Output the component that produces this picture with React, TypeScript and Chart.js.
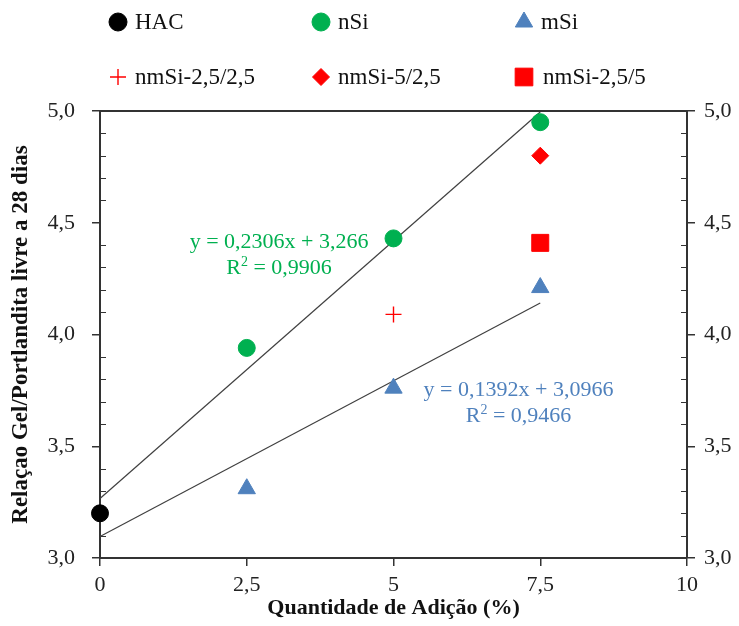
import React, { useEffect, useRef } from 'react';
import { Chart, registerables } from 'chart.js';
import { drawPoint } from 'chart.js/helpers';

Chart.register(...registerables);

const SERIF = '"Liberation Serif", "Times New Roman", serif';

// ---- data ----
const HAC_X = [0];
const HAC_Y = [3.2];
const NSI_X = [2.5, 5, 7.5];
const NSI_Y = [3.94, 4.43, 4.95];
const MSI_X = [2.5, 5, 7.5];
const MSI_Y = [3.31, 3.76, 4.21];
const NM_25_25_X = [5];
const NM_25_25_Y = [4.09];
const NM_5_25_X = [7.5];
const NM_5_25_Y = [4.8];
const NM_25_5_X = [7.5];
const NM_25_5_Y = [4.41];

const TREND_NSI = [0.2306, 3.266]; // slope, intercept
const TREND_MSI = [0.1392, 3.0966];
const TREND_RANGE = [0, 7.5];
const EQ_NSI = ['y = 0,2306x + 3,266', '0,9906'];
const EQ_MSI = ['y = 0,1392x + 3,0966', '0,9466'];

const X_TICKS = [0, 2.5, 5, 7.5, 10];
const X_TICK_LABELS = ['0', '2,5', '5', '7,5', '10'];
const Y_TICKS = [3.0, 3.5, 4.0, 4.5, 5.0];
const Y_TICK_LABELS = ['3,0', '3,5', '4,0', '4,5', '5,0'];

const X_TITLE = 'Quantidade de Adição (%)';
const Y_TITLE = 'Relaçao Gel/Portlandita livre a 28 dias';

const GREEN = '#00B050';
const BLUE = '#4F81BD';
const RED = '#FF0000';
const AXIS = '#333333';

const pts = (xs: number[], ys: number[]) => xs.map((x, i) => ({ x, y: ys[i] }));
const trend = (c: number[]) => TREND_RANGE.map((x) => ({ x, y: c[0] * x + c[1] }));

const legendPlugin = {
  id: 'customLegend',
  afterDraw(chart: any) {
    const ctx = chart.ctx;
    const cols = [118, 321, 524];
    const rows = [22, 77];
    const items = chart.data.datasets.filter((d: any) => d.inLegend);
    ctx.save();
    items.forEach((ds: any, i: number) => {
      const cx = cols[i % 3];
      const cy = rows[Math.floor(i / 3)];
      ctx.fillStyle = ds.backgroundColor;
      ctx.strokeStyle = ds.borderColor;
      ctx.lineWidth = ds.borderWidth ?? 1;
      drawPoint(ctx, { pointStyle: ds.pointStyle, rotation: 0, radius: ds.legendRadius, borderWidth: ds.borderWidth ?? 1 }, cx, cy);
      ctx.fillStyle = '#111';
      ctx.font = `23px ${SERIF}`;
      ctx.textBaseline = 'middle';
      ctx.textAlign = 'left';
      ctx.fillText(ds.label, cx + (ds.pointStyle === 'rect' ? 19 : 17), cy + 1);
    });
    ctx.restore();
  },
};

const framePlugin = {
  id: 'frameAndMinor',
  beforeDatasetsDraw(chart: any) {
    const ctx = chart.ctx;
    const { left, right, top } = chart.chartArea;
    const y = chart.scales.y;
    ctx.save();
    ctx.strokeStyle = AXIS;
    ctx.lineWidth = 2;
    ctx.beginPath();
    ctx.moveTo(left - 1, top);
    ctx.lineTo(right + 1, top);
    ctx.stroke();
    ctx.lineWidth = 1.2;
    for (let k = 31; k < 50; k++) {
      if (k % 5 === 0) continue;
      const py = Math.round(y.getPixelForValue(k / 10)) + 0.5;
      ctx.beginPath();
      ctx.moveTo(left, py);
      ctx.lineTo(left + 6, py);
      ctx.moveTo(right, py);
      ctx.lineTo(right - 6, py);
      ctx.stroke();
    }
    ctx.restore();
  },
};

const eqPlugin = {
  id: 'equations',
  afterDatasetsDraw(chart: any) {
    const ctx = chart.ctx;
    const xs = chart.scales.x;
    const ys = chart.scales.y;
    const drawEq = (eq: string[], color: string, xv: number, y1: number, y2: number) => {
      const cx = xs.getPixelForValue(xv);
      ctx.fillStyle = color;
      ctx.textBaseline = 'middle';
      ctx.textAlign = 'center';
      ctx.font = `22px ${SERIF}`;
      ctx.fillText(eq[0], cx, ys.getPixelForValue(y1));
      const rest = ' = ' + eq[1];
      const wR = ctx.measureText('R').width;
      const wRest = ctx.measureText(rest).width;
      ctx.font = `14px ${SERIF}`;
      const w2 = ctx.measureText('2').width;
      const total = wR + w2 + wRest;
      const x0 = cx - total / 2;
      const py = ys.getPixelForValue(y2);
      ctx.textAlign = 'left';
      ctx.font = `22px ${SERIF}`;
      ctx.fillText('R', x0, py);
      ctx.font = `14px ${SERIF}`;
      ctx.fillText('2', x0 + wR, py - 6);
      ctx.font = `22px ${SERIF}`;
      ctx.fillText(rest, x0 + wR + w2, py);
    };
    ctx.save();
    drawEq(EQ_NSI, GREEN, 3.05, 4.414, 4.298);
    drawEq(EQ_MSI, BLUE, 7.13, 3.752, 3.635);
    ctx.restore();
  },
};

export default function App() {
  const ref = useRef<HTMLCanvasElement>(null);

  useEffect(() => {
    if (!ref.current) return;
    const tickFont = { family: SERIF, size: 22 };
    const titleFont = { family: SERIF, size: 22, weight: 'bold' as const };
    const yScaleBase = (position: string) => ({
      type: 'linear' as const,
      position,
      min: 3,
      max: 5,
      afterBuildTicks: (s: any) => {
        s.ticks = Y_TICKS.map((v) => ({ value: v }));
      },
      ticks: {
        font: tickFont,
        color: '#222',
        padding: position === 'left' ? 17 : 9,
        callback: (_v: any, i: number) => Y_TICK_LABELS[i],
      },
      grid: { drawOnChartArea: false, drawTicks: true, tickLength: 8, color: AXIS, lineWidth: 1.5 },
      border: { display: true, color: AXIS, width: 2 },
    });

    const chart = new Chart(ref.current, {
      type: 'scatter',
      data: {
        datasets: [
          { type: 'line', label: 'trend nSi', data: trend(TREND_NSI), borderColor: '#404040', borderWidth: 1.2, pointRadius: 0, order: 10, clip: false } as any,
          { type: 'line', label: 'trend mSi', data: trend(TREND_MSI), borderColor: '#404040', borderWidth: 1.2, pointRadius: 0, order: 10, clip: false } as any,
          { label: 'HAC', data: pts(HAC_X, HAC_Y), pointStyle: 'circle', pointRadius: 8.5, legendRadius: 9, backgroundColor: '#000', borderColor: '#000', borderWidth: 1, inLegend: true, clip: false } as any,
          { label: 'nSi', data: pts(NSI_X, NSI_Y), pointStyle: 'circle', pointRadius: 8.5, legendRadius: 9, backgroundColor: GREEN, borderColor: GREEN, borderWidth: 1, inLegend: true, clip: false } as any,
          { label: 'mSi', data: pts(MSI_X, MSI_Y), pointStyle: 'triangle', pointRadius: 10, legendRadius: 10, backgroundColor: BLUE, borderColor: BLUE, borderWidth: 1, inLegend: true, clip: false } as any,
          { label: 'nmSi-2,5/2,5', data: pts(NM_25_25_X, NM_25_25_Y), pointStyle: 'cross', pointRadius: 8, legendRadius: 8, backgroundColor: RED, borderColor: RED, borderWidth: 1.4, inLegend: true, clip: false } as any,
          { label: 'nmSi-5/2,5', data: pts(NM_5_25_X, NM_5_25_Y), pointStyle: 'rectRot', pointRadius: 8.5, legendRadius: 8.5, backgroundColor: RED, borderColor: RED, borderWidth: 1, inLegend: true, clip: false } as any,
          { label: 'nmSi-2,5/5', data: pts(NM_25_5_X, NM_25_5_Y), pointStyle: 'rect', pointRadius: 12, legendRadius: 12.5, backgroundColor: RED, borderColor: RED, borderWidth: 1, inLegend: true, clip: false } as any,
        ],
      },
      options: {
        animation: false,
        responsive: false,
        maintainAspectRatio: false,
        layout: { padding: { top: 111, left: 0, right: 0, bottom: 0 } },
        plugins: { legend: { display: false }, tooltip: { enabled: false } },
        scales: {
          x: {
            type: 'linear',
            position: 'bottom',
            min: 0,
            max: 10,
            afterBuildTicks: (s: any) => {
              s.ticks = X_TICKS.map((v) => ({ value: v }));
            },
            afterFit: (s: any) => {
              s.height = 68;
            },
            ticks: {
              font: tickFont,
              color: '#222',
              padding: 6,
              maxRotation: 0,
              callback: (_v: any, i: number) => X_TICK_LABELS[i],
            },
            grid: { drawOnChartArea: false, drawTicks: true, tickLength: 8, color: AXIS, lineWidth: 1.5 },
            border: { display: true, color: AXIS, width: 2 },
            title: { display: true, text: X_TITLE, font: titleFont, color: '#111', padding: { top: 0, bottom: 4 } },
          },
          y: {
            ...yScaleBase('left'),
            afterFit: (s: any) => {
              s.width = 100;
            },
            title: { display: true, text: Y_TITLE, font: { ...titleFont, size: 23 }, color: '#111', padding: { top: 7, bottom: 0 } },
          },
          y2: {
            ...yScaleBase('right'),
            afterFit: (s: any) => {
              s.width = 52;
            },
          },
        } as any,
      },
      plugins: [legendPlugin, framePlugin, eqPlugin],
    });
    return () => chart.destroy();
  }, []);

  return (
    <div style={{ position: 'fixed', left: 0, top: 0, width: 739, height: 626, background: '#fff' }}>
      <canvas ref={ref} width={739} height={626} style={{ display: 'block', width: 739, height: 626 }} />
    </div>
  );
}
